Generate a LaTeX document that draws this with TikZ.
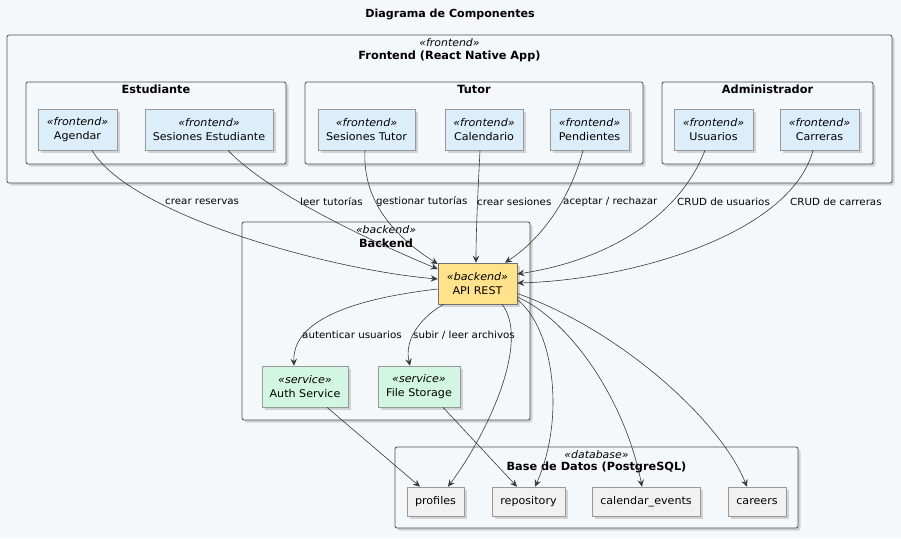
\documentclass[tikz,border=0pt]{standalone}
\usepackage{fontspec}
\setmainfont{DejaVu Sans}
\newfontfamily\widesans{DejaVu Sans}[FakeStretch=1.05]
\usetikzlibrary{shadows,arrows.meta}

\definecolor{bgcol}{HTML}{F5F8FB}
\definecolor{frontcol}{HTML}{DCEEFA}
\definecolor{servcol}{HTML}{D2F6E2}
\definecolor{apicol}{HTML}{FFE38C}
\definecolor{tablecol}{HTML}{F1F1F1}
\definecolor{edgecol}{HTML}{383838}

\tikzset{
  shade box/.style={drop shadow={shadow xshift=2.5pt,shadow yshift=-2.5pt,fill=black!40,opacity=0.4}},
  groupbox/.style={draw=black!70,line width=0.8pt,rounded corners=2pt,fill=bgcol,shade box},
  comp/.style={draw=black!40,line width=0.6pt,fill=frontcol,minimum height=41pt,
    inner xsep=2pt,align=center,shade box,font=\widesans\fontsize{10.6}{14}\selectfont},
  servcomp/.style={comp,fill=servcol},
  apicomp/.style={comp,fill=apicol,draw=black!55},
  tablebox/.style={comp,fill=tablecol,minimum height=29pt},
  grouptitle/.style={font=\fontsize{11.3}{13}\bfseries\selectfont,inner sep=0pt},
  stereo/.style={font=\widesans\fontsize{10.4}{12}\itshape\selectfont,inner sep=0pt},
  flow/.style={draw=edgecol,line width=0.6pt,-{Stealth[length=7pt,width=6.5pt,inset=2.5pt]}},
  flowlabel/.style={font=\widesans\fontsize{9.8}{12}\selectfont,inner sep=0pt,anchor=west}
}

\begin{document}
\begin{tikzpicture}[x=1pt,y=-1pt]
\useasboundingbox[fill=bgcol] (0,0) rectangle (901,538);

\node[font=\fontsize{11.1}{13}\bfseries\selectfont] (title) at (450,14) {Diagrama de Componentes};

\node[groupbox,minimum width=885pt,minimum height=148pt] (front) at (449.5,109) {};
\node[stereo] (frontst) at (449.5,43) {«frontend»};
\node[grouptitle] (fronttl) at (449.5,56) {Frontend (React Native App)};

\node[groupbox,minimum width=260pt,minimum height=82pt] (estud) at (156,123) {};
\node[grouptitle] (estudtl) at (156,89) {Estudiante};
\node[groupbox,minimum width=338pt,minimum height=82pt] (tutor) at (474,123) {};
\node[grouptitle] (tutortl) at (474,89) {Tutor};
\node[groupbox,minimum width=211pt,minimum height=82pt] (admin) at (767.5,123) {};
\node[grouptitle] (admintl) at (767.5,89) {Administrador};

\node[comp,minimum width=79pt] (agendar) at (77.5,129.5) {\textit{«frontend»}\\Agendar};
\node[comp,minimum width=128pt] (sesest) at (209,129.5) {\textit{«frontend»}\\Sesiones Estudiante};
\node[comp,minimum width=97pt] (sestut) at (366.5,129.5) {\textit{«frontend»}\\Sesiones Tutor};
\node[comp,minimum width=78pt] (calend) at (484,129.5) {\textit{«frontend»}\\Calendario};
\node[comp,minimum width=79pt] (pend) at (589.5,129.5) {\textit{«frontend»}\\Pendientes};
\node[comp,minimum width=79pt] (usuarios) at (713.5,129.5) {\textit{«frontend»}\\Usuarios};
\node[comp,minimum width=79pt] (carreras) at (819.5,129.5) {\textit{«frontend»}\\Carreras};

\node[groupbox,minimum width=288pt,minimum height=198pt] (back) at (386,321) {};
\node[stereo] (backst) at (386,230) {«backend»};
\node[grouptitle] (backtl) at (386,243) {Backend};

\node[apicomp,minimum width=79pt] (api) at (477.5,283.5) {\textit{«backend»}\\API REST};
\node[servcomp,minimum width=86pt] (auth) at (305,386.5) {\textit{«service»}\\Auth Service};
\node[servcomp,minimum width=82pt] (files) at (419,386.5) {\textit{«service»}\\File Storage};

\node[groupbox,minimum width=403pt,minimum height=81pt] (db) at (596.5,487.5) {};
\node[stereo] (dbst) at (596.5,455) {«database»};
\node[grouptitle] (dbtl) at (596.5,467) {Base de Datos (PostgreSQL)};

\node[tablebox,minimum width=57pt] (profiles) at (435.5,501.5) {profiles};
\node[tablebox,minimum width=73pt] (repo) at (528.5,501.5) {repository};
\node[tablebox,minimum width=108pt] (calev) at (646,501.5) {calendar\_events};
\node[tablebox,minimum width=58pt] (careers) at (757,501.5) {careers};

\draw[flow] ([xshift=14.5pt]agendar.south) .. controls (130,215) and (330,270) .. ([yshift=4.5pt]api.west);
\draw[flow] ([xshift=19pt]sesest.south) .. controls (270,195) and (380,245) .. ([yshift=14.5pt]api.west);
\draw[flow] ([xshift=-1.5pt]sestut.south) .. controls (362,205) and (400,240) .. ([yshift=19.5pt]api.west);
\draw[flow] ([xshift=-4pt]calend.south) .. controls (478,190) and (476,230) .. ([xshift=-1.5pt]api.north);
\draw[flow] ([xshift=-6.5pt]pend.south) .. controls (570,200) and (540,240) .. ([xshift=27.5pt]api.north);
\draw[flow] ([xshift=-8.5pt]usuarios.south) .. controls (680,215) and (610,260) .. ([yshift=9.5pt]api.east);
\draw[flow] ([xshift=-6.5pt]carreras.south) .. controls (790,235) and (630,280) .. ([yshift=0.5pt]api.east);

\node[flowlabel] (lbagendar) at (165,202) {crear reservas};
\node[flowlabel] (lbsesest) at (300,202) {leer tutorías};
\node[flowlabel] (lbsestut) at (376,202) {gestionar tutorías};
\node[flowlabel] (lbcalend) at (477,202) {crear sesiones};
\node[flowlabel] (lbpend) at (563,202) {aceptar / rechazar};
\node[flowlabel] (lbusuarios) at (677,202) {CRUD de usuarios};
\node[flowlabel] (lbcarreras) at (790,202) {CRUD de carreras};

\draw[flow] ([yshift=-5.5pt]api.west) .. controls (360,298) and (292,318) .. ([xshift=-11pt]auth.north);
\draw[flow] ([xshift=-34pt]api.south) .. controls (420,318) and (404,340) .. ([xshift=-9pt]files.north);
\node[flowlabel] (lbauth) at (302,335) {autenticar usuarios};
\node[flowlabel] (lbfiles) at (413,335) {subir / leer archivos};

\draw[flow] ([xshift=24.5pt]api.south) .. controls (530,340) and (490,430) .. ([xshift=12.5pt]profiles.north);
\draw[flow] ([yshift=-16pt]api.east) .. controls (555,330) and (565,420) .. ([xshift=6.5pt]repo.north);
\draw[flow] ([yshift=-13.5pt]api.east) .. controls (570,320) and (625,400) .. ([xshift=-4pt]calev.north);
\draw[flow] ([yshift=-10pt]api.east) .. controls (620,330) and (720,420) .. ([xshift=-10pt]careers.north);

\draw[flow] ([xshift=22pt]auth.south) -- ([xshift=-15.5pt]profiles.north);
\draw[flow] ([xshift=24pt]files.south) -- ([xshift=-11.5pt]repo.north);
\end{tikzpicture}
\end{document}
